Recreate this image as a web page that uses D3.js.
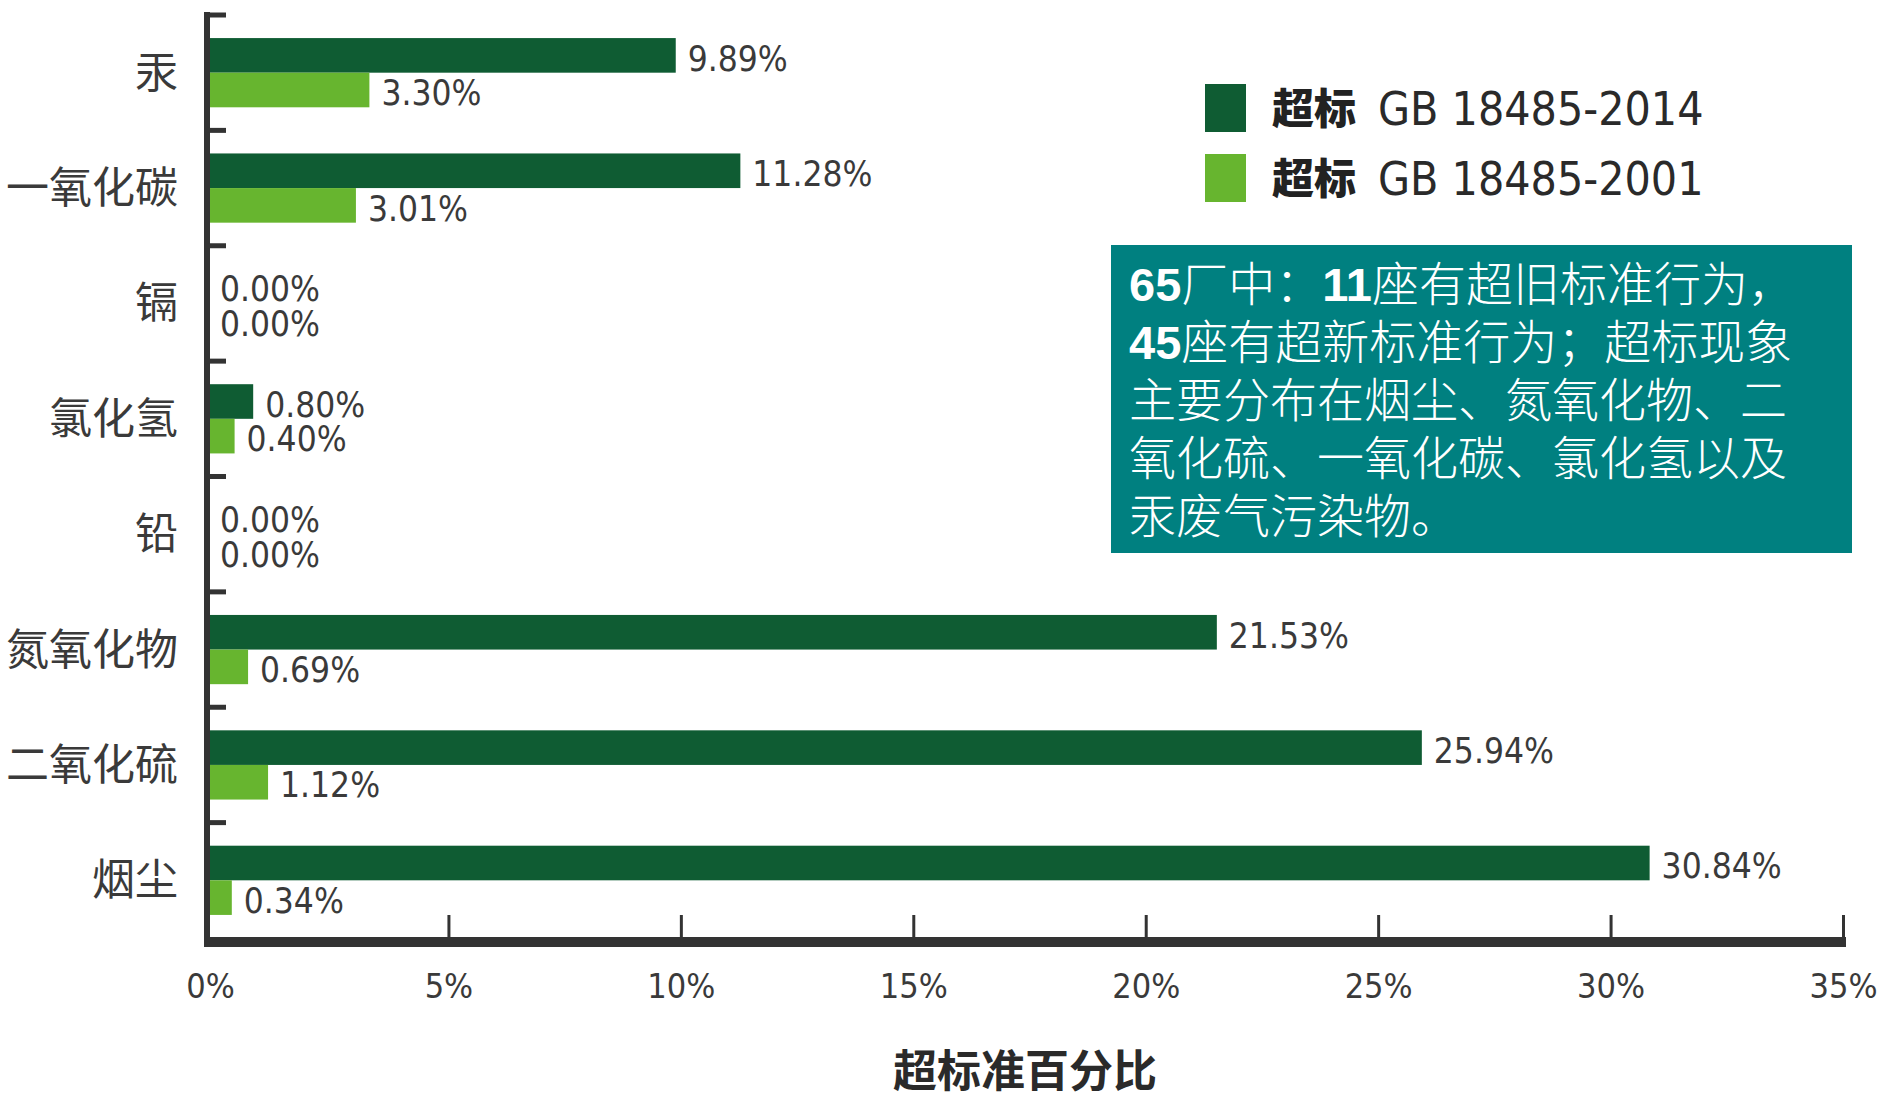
<!DOCTYPE html>
<html lang="zh">

<head>
   <meta charset="UTF-8">
   <title>超标准百分比</title>
   <script src="https://d3js.org/d3.v7.min.js"></script>
   <style>
      body { margin: 0; background: #fff; }
      .num { font-family: 'DejaVu Sans', sans-serif; font-stretch: condensed; }
      .cjk { font-family: 'Noto Sans CJK SC', sans-serif; }
   </style>
</head>

<body>
   <script>

      const categories = ['汞', '一氧化碳', '镉', '氯化氢', '铅', '氮氧化物', '二氧化硫', '烟尘'];
      const std2014 = [9.89, 11.28, 0.00, 0.80, 0.00, 21.53, 25.94, 30.84];
      const std2001 = [3.30, 3.01, 0.00, 0.40, 0.00, 0.69, 1.12, 0.34];
      const seriesKeys = ['GB 18485-2014', 'GB 18485-2001'];
      const seriesPrefix = '超标';
      const xTicks = [0, 5, 10, 15, 20, 25, 30, 35];
      const xTitle = '超标准百分比';
      const noteLines = [
         '65厂中：11座有超旧标准行为，',
         '45座有超新标准行为；超标现象',
         '主要分布在烟尘、氮氧化物、二',
         '氧化硫、一氧化碳、氯化氢以及',
         '汞废气污染物。'
      ];

      const W = 1886, H = 1102;
      const colors = ['#0f5c33', '#67b52f'];
      const axisColor = '#333';
      const textColor = '#3a3a3a';

      const svg = d3.select('body').append('svg').attr('width', W).attr('height', H);

      const x = d3.scaleLinear().domain([0, 35]).range([216, 1843]);
      const y = d3.scaleBand().domain(categories).range([15, 938]);
      // two bars sit in the middle 60% of each band
      const ySub = d3.scaleBand().domain(seriesKeys).range([y.bandwidth() * 0.2, y.bandwidth() * 0.8]);

      const rows = categories.map((c, i) => ({ cat: c, vals: [std2014[i], std2001[i]] }));

      // bars start right at the axis line
      const barStart = 209;

      const groups = svg.selectAll('.row')
         .data(rows)
         .enter()
         .append('g')
         .attr('class', 'row')
         .attr('transform', d => `translate(0, ${y(d.cat)})`);

      groups.selectAll('rect')
         .data(d => d.vals.map((v, k) => ({ key: seriesKeys[k], v, k })))
         .enter()
         .append('rect')
         .attr('x', barStart)
         .attr('y', d => ySub(d.key))
         .attr('width', d => d.v === 0 ? 0 : x(d.v) - barStart)
         .attr('height', ySub.bandwidth())
         .attr('fill', d => colors[d.k]);

      groups.selectAll('text')
         .data(d => d.vals.map((v, k) => ({ key: seriesKeys[k], v, k })))
         .enter()
         .append('text')
         .attr('class', 'num')
         .attr('x', d => d.v === 0 ? barStart + 11 : x(d.v) + 12)
         .attr('y', d => ySub(d.key) + ySub.bandwidth() / 2 + 3)
         .attr('dy', '0.35em')
         .attr('font-size', 35)
         .attr('fill', textColor)
         .text(d => d3.format('.2f')(d.v) + '%');

      // y axis line and boundary ticks
      svg.append('line')
         .attr('x1', 207).attr('x2', 207)
         .attr('y1', 12).attr('y2', 947)
         .attr('stroke', axisColor).attr('stroke-width', 6);

      svg.selectAll('.ytick')
         .data(categories)
         .enter()
         .append('line')
         .attr('x1', 207).attr('x2', 226)
         .attr('y1', d => y(d)).attr('y2', d => y(d))
         .attr('stroke', axisColor).attr('stroke-width', 5);

      svg.selectAll('.ylab')
         .data(categories)
         .enter()
         .append('text')
         .attr('class', 'cjk')
         .attr('x', 178)
         .attr('y', d => y(d) + y.bandwidth() / 2)
         .attr('dy', '0.35em')
         .attr('text-anchor', 'end')
         .attr('font-size', 43)
         .attr('fill', textColor)
         .text(d => d);

      // x axis
      const xAxis = svg.append('g')
         .attr('transform', 'translate(0, 938)')
         .call(d3.axisBottom(x).tickValues(xTicks).tickSizeInner(-23).tickSizeOuter(0).tickFormat(d => d + '%'));

      xAxis.select('.domain').remove();
      xAxis.selectAll('.tick line')
         .attr('stroke', axisColor)
         .attr('stroke-width', 3)
         .attr('display', d => d === 0 ? 'none' : null); // the y axis line stands in for the 0 tick
      xAxis.selectAll('.tick text')
         .attr('class', 'num')
         .attr('x', d => d === 0 ? -6 : 0)
         .attr('y', 48)
         .attr('dy', '0.35em')
         .attr('font-size', 34)
         .attr('fill', textColor);

      svg.append('rect')
         .attr('x', 204).attr('y', 937)
         .attr('width', 1846 - 204).attr('height', 10)
         .attr('fill', axisColor);

      svg.append('text')
         .attr('class', 'cjk')
         .attr('x', 1025).attr('y', 1072)
         .attr('dy', '0.35em')
         .attr('text-anchor', 'middle')
         .attr('font-size', 44)
         .attr('font-weight', 'bold')
         .attr('fill', '#2a2a2a')
         .text(xTitle);

      // legend
      const legend = svg.selectAll('.legend')
         .data(seriesKeys)
         .enter()
         .append('g')
         .attr('transform', (d, i) => `translate(1205, ${84 + i * 70})`);

      legend.append('rect')
         .attr('width', 41).attr('height', 48)
         .attr('fill', (d, i) => colors[i]);

      legend.append('text')
         .attr('class', 'cjk')
         .attr('x', 67).attr('y', 25)
         .attr('dy', '0.35em')
         .attr('font-size', 42)
         .attr('font-weight', 900)
         .attr('fill', '#222')
         .text(seriesPrefix);

      legend.append('text')
         .attr('class', 'num')
         .attr('x', 173).attr('y', 25)
         .attr('dy', '0.35em')
         .attr('font-size', 46)
         .attr('fill', '#2a2a2a')
         .text(d => d);

      // note box
      svg.append('rect')
         .attr('x', 1111).attr('y', 245)
         .attr('width', 741).attr('height', 308)
         .attr('fill', '#008080');

      const note = svg.selectAll('.note')
         .data(noteLines)
         .enter()
         .append('text')
         .attr('class', 'cjk')
         .attr('x', 1129)
         .attr('y', (d, i) => 285 + i * 58)
         .attr('dy', '0.35em')
         .attr('font-size', 47)
         .attr('fill', '#fff');

      note.selectAll('tspan')
         .data(d => d.split(/(\d+)/).filter(s => s.length))
         .enter()
         .append('tspan')
         .attr('font-family', d => /^\d+$/.test(d) ? 'Liberation Sans, Arial, sans-serif' : null)
         .attr('font-weight', d => /^\d+$/.test(d) ? 'bold' : 300)
         .text(d => d);

   </script>
</body>

</html>
